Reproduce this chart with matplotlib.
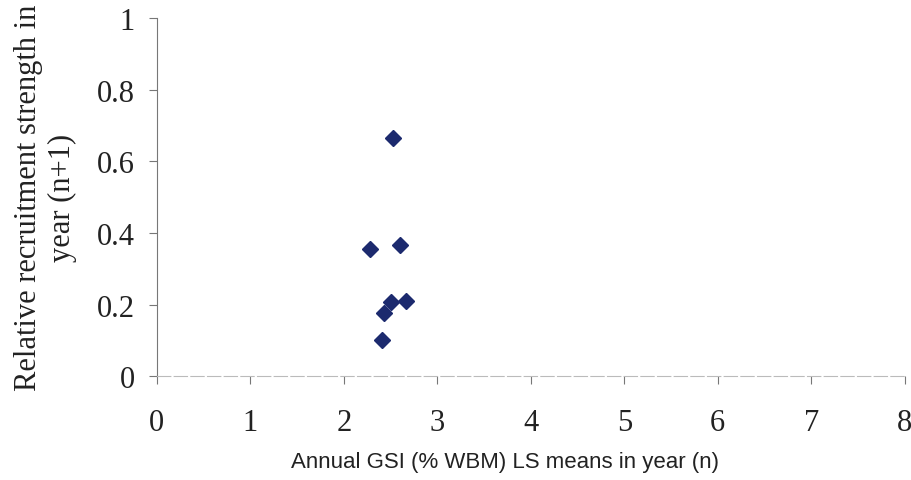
import matplotlib
matplotlib.use('Agg')
import matplotlib.pyplot as plt

gsi = [2.53, 2.28, 2.60, 2.50, 2.67, 2.43, 2.41]
recruit = [0.665, 0.355, 0.366, 0.207, 0.21, 0.175, 0.10]

fig = plt.figure(figsize=(9.12, 4.81), dpi=100)
ax = fig.add_axes([0.172, 0.216, 0.82, 0.744])

ax.plot(gsi, recruit, linestyle='none', marker='D', markersize=8,
        color='#1c2a6e', markeredgecolor='#1c2a6e')

ax.set_xlim(0, 8)
ax.set_ylim(0, 1)
ax.set_xticks(range(0, 9))
ax.set_yticks([0, 0.2, 0.4, 0.6, 0.8, 1])
ax.set_yticklabels(['0', '0.2', '0.4', '0.6', '0.8', '1'])

for s in ['top', 'right']:
    ax.spines[s].set_visible(False)
ax.spines['left'].set_color('#777777')
ax.spines['bottom'].set_color('#bbbbbb')
ax.spines['bottom'].set_linestyle((0, (12, 3)))
ax.tick_params(axis='both', colors='#777777', length=6, width=0.8,
               labelcolor='#222222', labelsize=22)
for lab in ax.get_xticklabels() + ax.get_yticklabels():
    lab.set_family('Liberation Serif')
ax.tick_params(axis='x', pad=17)
ax.tick_params(axis='y', pad=10)

ax.set_xlabel('Annual GSI (% WBM) LS means in year (n)', family='Liberation Sans',
              fontsize=16, color='#222222')
ax.xaxis.set_label_coords(0.465, -0.21)
ax.set_ylabel('Relative recruitment strength in\nyear (n+1)', family='Liberation Serif',
              fontsize=22, color='#222222', linespacing=1.22, labelpad=14)

fig.savefig('out.png', dpi=100)
